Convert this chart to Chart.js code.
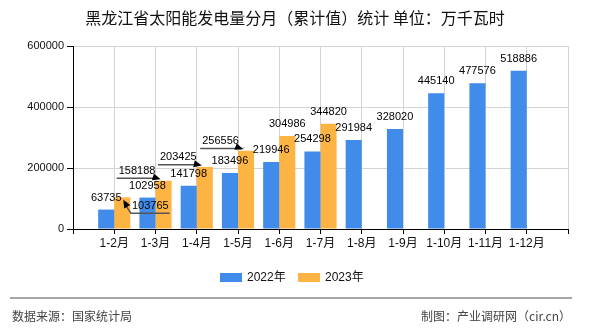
<!DOCTYPE html>
<html>
<head>
<meta charset="utf-8">
<script src="https://cdn.jsdelivr.net/npm/chart.js@4/dist/chart.umd.min.js"></script>
<style>
html,body{margin:0;padding:0;background:#fff;}
#wrap{width:590px;height:330px;position:relative;}
</style>
</head>
<body>
<div id="wrap"><canvas id="c" width="590" height="330"></canvas></div>
<script>
const categories = ['', '1-2月', '1-3月', '1-4月', '1-5月', '1-6月', '1-7月', '1-8月', '1-9月', '1-10月', '1-11月', '1-12月', ''];
const series2022 = [null, 63735, 102958, 141798, 183496, 219946, 254298, 291984, 328020, 445140, 477576, 518886, null];
const series2023 = [null, 103765, 158188, 203425, 256556, 304986, 344820, null, null, null, null, null, null];
const yTicks = [0, 200000, 400000, 600000];
const seriesNames = ['2022年', '2023年'];
const colors = ['#418BEB', '#FDB443'];

const titleText = '黑龙江省太阳能发电量分月（累计值）统计 单位：万千瓦时';
const sourceText = '数据来源：国家统计局';
const creditText = '制图：产业调研网（cir.cn）';

// label layout tweaks (displaced labels with leader arrows) for 2023 series
const labelShift = {
  1: {
    1: {dx: 28, dy: 8.5, side: 'right'},
    2: {dx: -26.5, dy: -10, side: 'left'},
    3: {dx: -26.5, dy: -9.7, side: 'left'},
    4: {dx: -25.5, dy: -9.8, side: 'left'}
  }
};

const FONT_NUM = '"Liberation Sans", "Noto Sans CJK SC", sans-serif';
const FONT_CJK = '"Noto Sans CJK SC", "Liberation Sans", sans-serif';

function arrow(ctx, fx, fy, tx, ty) {
  const a = Math.atan2(ty - fy, tx - fx);
  const L = 8, W = 3.5;
  ctx.beginPath();
  ctx.moveTo(tx, ty);
  ctx.lineTo(tx - L * Math.cos(a) + W * Math.sin(a), ty - L * Math.sin(a) - W * Math.cos(a));
  ctx.lineTo(tx - L * Math.cos(a) - W * Math.sin(a), ty - L * Math.sin(a) + W * Math.cos(a));
  ctx.closePath();
  ctx.fill();
}

const decor = {
  id: 'decor',
  beforeDraw(chart) {
    const ctx = chart.ctx;
    ctx.save();
    ctx.fillStyle = '#fff';
    ctx.fillRect(0, 0, chart.width, chart.height);
    ctx.restore();
  },
  afterDatasetsDraw(chart) {
    const ctx = chart.ctx;
    ctx.save();
    ctx.font = '11px ' + FONT_NUM;
    ctx.fillStyle = '#000';
    ctx.textAlign = 'center';
    ctx.textBaseline = 'middle';
    chart.data.datasets.forEach((ds, i) => {
      const meta = chart.getDatasetMeta(i);
      meta.data.forEach((bar, j) => {
        const v = ds.data[j];
        if (v === null || v === undefined) return;
        const txt = String(v);
        const sh = labelShift[i] && labelShift[i][j];
        if (!sh) {
          ctx.fillText(txt, bar.x, bar.y - 12);
          return;
        }
        const lx = bar.x + sh.dx, ly = bar.y + sh.dy;
        ctx.fillStyle = '#000';
        ctx.fillText(txt, lx, ly);
        const w = ctx.measureText(txt).width;
        const uy = ly + 7.5;
        ctx.strokeStyle = '#555';
        ctx.lineWidth = 1.5;
        ctx.beginPath();
        let fx, fy, tx, ty;
        if (sh.side === 'right') {
          tx = bar.x + 1; ty = bar.y + 2.5;
          fx = lx - w / 2 - 1; fy = uy;
          ctx.moveTo(lx + w / 2 + 1, uy);
          ctx.lineTo(fx, fy);
          ctx.lineTo(tx + 1.5, ty + 4);
        } else {
          tx = bar.x - 3; ty = bar.y - 1.5;
          fx = lx + w / 2 + 2; fy = uy;
          ctx.moveTo(lx - w / 2 - 2, uy);
          ctx.lineTo(fx, fy);
          ctx.lineTo(tx - 3, ty - 0.5);
        }
        ctx.stroke();
        ctx.fillStyle = '#000';
        arrow(ctx, fx, fy, tx, ty);
      });
    });
    ctx.restore();
  },
  afterDraw(chart) {
    const ctx = chart.ctx;
    ctx.save();
    // title
    ctx.fillStyle = '#111';
    ctx.font = '16px ' + FONT_CJK;
    ctx.textAlign = 'center';
    ctx.textBaseline = 'middle';
    ctx.fillText(titleText, 295, 18);
    // legend
    ctx.font = '12px ' + FONT_NUM;
    ctx.textAlign = 'left';
    const lx = [220, 298];
    chart.data.datasets.forEach((ds, i) => {
      ctx.fillStyle = ds.backgroundColor;
      ctx.fillRect(lx[i], 273, 22, 9);
      ctx.fillStyle = '#111';
      ctx.fillText(ds.label, lx[i] + 27, 277.5);
    });
    // footer line
    ctx.strokeStyle = '#888';
    ctx.lineWidth = 1.5;
    ctx.beginPath();
    ctx.moveTo(10, 298);
    ctx.lineTo(572, 298);
    ctx.stroke();
    ctx.fillStyle = '#444';
    ctx.font = '12px ' + FONT_CJK;
    ctx.textAlign = 'left';
    ctx.fillText(sourceText, 12, 316);
    ctx.textAlign = 'right';
    ctx.fillText(creditText, 571, 316);
    ctx.restore();
  }
};

new Chart(document.getElementById('c'), {
  type: 'bar',
  data: {
    labels: categories,
    datasets: [
      {label: seriesNames[0], data: series2022, backgroundColor: colors[0]},
      {label: seriesNames[1], data: series2023, backgroundColor: colors[1]}
    ]
  },
  options: {
    responsive: false,
    animation: false,
    devicePixelRatio: 1,
    layout: {padding: {left: 0, right: 22, top: 46, bottom: 0}},
    datasets: {bar: {categoryPercentage: 0.78, barPercentage: 1.0}},
    plugins: {legend: {display: false}, tooltip: {enabled: false}, title: {display: false}},
    scales: {
      x: {
        offset: false,
        grid: {offset: false, color: '#d4d4d4', tickColor: '#000', tickLength: 5, drawTicks: true},
        border: {color: '#000', width: 1},
        ticks: {autoSkip: false, maxRotation: 0, color: '#111', padding: 2, font: {size: 12, family: FONT_NUM}},
        afterFit(s) { s.height = 101; }
      },
      y: {
        min: 0, max: 600000,
        afterBuildTicks(s) { s.ticks = yTicks.map(v => ({value: v})); },
        grid: {color: '#d4d4d4', tickColor: '#000', tickLength: 6},
        border: {color: '#000', width: 1},
        ticks: {color: '#111', padding: 3, font: {size: 11, family: FONT_NUM}, callback: (v) => String(v)},
        afterFit(s) { s.width = 73; }
      }
    }
  },
  plugins: [decor]
});
</script>
</body>
</html>
